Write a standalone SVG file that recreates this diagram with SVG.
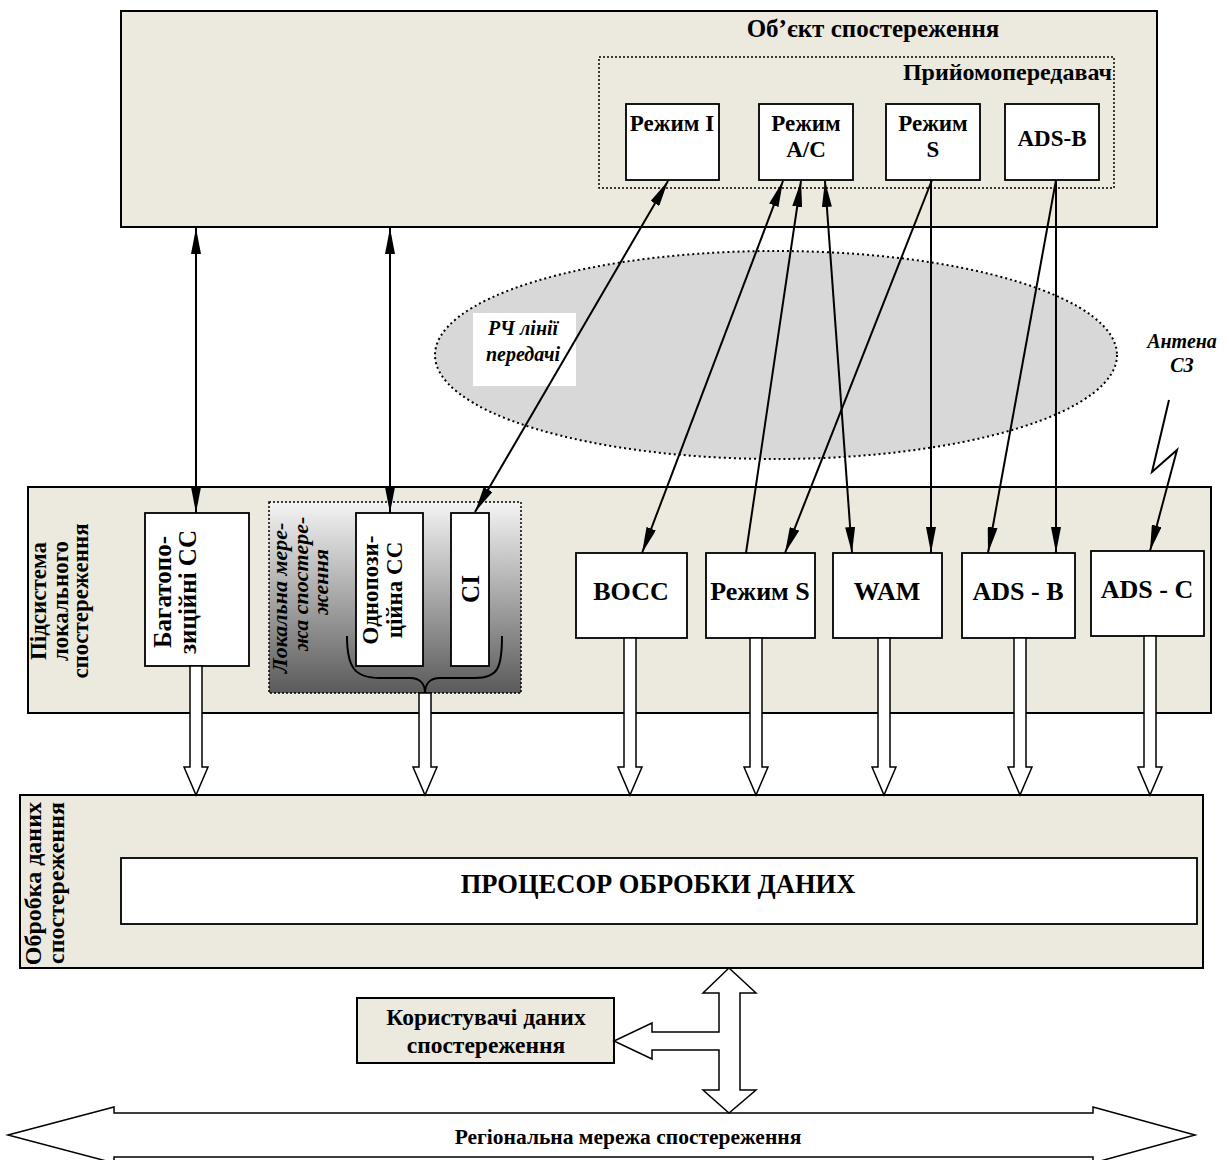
<svg xmlns="http://www.w3.org/2000/svg" width="1229" height="1160" viewBox="0 0 1229 1160">
  <defs>
    <style>
      .panel { fill: #ece9df; stroke: #000; stroke-width: 2; }
      .box { fill: #fff; stroke: #000; stroke-width: 1.8; }
      .dots { fill: none; stroke: #000; stroke-width: 1.5; stroke-dasharray: 2 2; }
      .t { font-family: "Liberation Serif", "Times New Roman", serif; font-weight: bold; fill: #000; }
      .it { font-style: italic; }
      .mid { text-anchor: middle; }
      .conn line, .conn polyline { stroke: #000; stroke-width: 2; fill: none; }
      .hollow { fill: #fff; stroke: #000; stroke-width: 1.5; stroke-linejoin: miter; }
    </style>
    <marker id="ah" viewBox="0 0 26 10" refX="26" refY="5" markerWidth="26" markerHeight="10" markerUnits="userSpaceOnUse" orient="auto-start-reverse">
      <path d="M0,0 L26,5 L0,10 z" fill="#000"/>
    </marker>
    <linearGradient id="lanGrad" x1="0" y1="0" x2="0" y2="1">
      <stop offset="0" stop-color="#f4f4f4"/>
      <stop offset="1" stop-color="#5a5a5a"/>
    </linearGradient>
  </defs>

  <!-- Observed object with its transponder -->
  <g id="object">
    <rect class="panel" x="121" y="11" width="1036" height="216" stroke-width="2.4"/>
    <text class="t mid" x="873" y="37" font-size="25">Об’єкт спостереження</text>
  </g>
  <g id="transponder">
    <rect class="dots" x="599" y="57" width="515" height="131"/>
    <text class="t" x="1112" y="80" font-size="24" text-anchor="end">Прийомопередавач</text>
  </g>
  <g id="mode-i">
    <rect class="box" x="626" y="104" width="93" height="76"/>
    <text class="t mid" x="672" y="131" font-size="23">Режим I</text>
  </g>
  <g id="mode-ac">
    <rect class="box" x="759" y="104" width="94" height="76"/>
    <text class="t mid" x="806" y="131" font-size="23">Режим</text>
    <text class="t mid" x="806" y="157" font-size="23">A/C</text>
  </g>
  <g id="mode-s-top">
    <rect class="box" x="886" y="104" width="94" height="76"/>
    <text class="t mid" x="933" y="131" font-size="23">Режим</text>
    <text class="t mid" x="933" y="157" font-size="23">S</text>
  </g>
  <g id="adsb-top">
    <rect class="box" x="1005" y="104" width="94" height="76"/>
    <text class="t mid" x="1052" y="146" font-size="23">ADS-B</text>
  </g>

  <!-- RF transmission lines -->
  <g id="rf-links">
    <ellipse cx="776" cy="355" rx="341" ry="104" fill="#d8d8d8" stroke="#000" stroke-width="2" stroke-dasharray="2 3"/>
    <rect x="473" y="313" width="103" height="73" fill="#fff"/>
    <text class="t it mid" x="523" y="335" font-size="20">РЧ лінії</text>
    <text class="t it mid" x="523" y="361" font-size="20">передачі</text>
  </g>

  <g id="antenna-label">
    <text class="t it mid" x="1182" y="348" font-size="20">Антена</text>
    <text class="t it mid" x="1182" y="372" font-size="20">СЗ</text>
  </g>

  <!-- Local surveillance subsystem -->
  <g id="local-subsystem">
    <rect class="panel" x="28" y="487" width="1183" height="226" stroke-width="1.6"/>
    <g class="t mid" font-size="23">
      <text transform="translate(46,601) rotate(-90)">Підсистема</text>
      <text transform="translate(68,601) rotate(-90)">локального</text>
      <text transform="translate(88,601) rotate(-90)">спостереження</text>
    </g>
  </g>
  <g id="multilateration">
    <rect class="box" x="145" y="513" width="104" height="153"/>
    <g class="t mid" font-size="25">
      <text transform="translate(171,592) rotate(-90)">Багатопо-</text>
      <text transform="translate(196,592) rotate(-90)">зиційні СС</text>
    </g>
  </g>
  <g id="local-network">
    <rect x="269" y="502" width="252" height="191" fill="url(#lanGrad)"/>
    <rect class="dots" x="269" y="502" width="252" height="191"/>
    <g class="t it mid" font-size="22">
      <text transform="translate(287,598) rotate(-90)">Локальна мере-</text>
      <text transform="translate(308,584) rotate(-90)">жа спостере-</text>
      <text transform="translate(328,582) rotate(-90)">ження</text>
    </g>
    <path d="M347,636 C347,668 355,678 380,678 L410,678 C420,678 425,684 425,693 C425,684 430,678 440,678 L475,678 C498,678 502,668 502,636" fill="none" stroke="#000" stroke-width="2"/>
  </g>
  <g id="single-site">
    <rect class="box" x="356" y="513" width="67" height="153"/>
    <g class="t mid" font-size="23">
      <text transform="translate(378,590) rotate(-90)">Однопози-</text>
      <text transform="translate(402,590) rotate(-90)">ційна СС</text>
    </g>
  </g>
  <g id="ci">
    <rect class="box" x="451" y="513" width="38" height="153"/>
    <text class="t mid" font-size="25" transform="translate(479,589) rotate(-90)">СІ</text>
  </g>
  <g id="vocc">
    <rect class="box" x="576" y="553" width="111" height="85"/>
    <text class="t mid" x="631" y="600" font-size="26">ВОСС</text>
  </g>
  <g id="mode-s">
    <rect class="box" x="706" y="553" width="109" height="85"/>
    <text class="t mid" x="760" y="600" font-size="26">Режим S</text>
  </g>
  <g id="wam">
    <rect class="box" x="833" y="553" width="109" height="85"/>
    <text class="t mid" x="887" y="600" font-size="26">WAM</text>
  </g>
  <g id="adsb">
    <rect class="box" x="962" y="553" width="113" height="85"/>
    <text class="t mid" x="1018" y="600" font-size="26">ADS - B</text>
  </g>
  <g id="adsc">
    <rect class="box" x="1091" y="551" width="113" height="85"/>
    <text class="t mid" x="1147" y="598" font-size="26">ADS - C</text>
  </g>

  <!-- Surveillance data processing -->
  <g id="processing">
    <rect class="panel" x="20" y="795" width="1183" height="173" stroke-width="1.6"/>
    <g class="t" font-size="24" text-anchor="end">
      <text transform="translate(41,802) rotate(-90)">Обробка даних</text>
      <text transform="translate(64,802) rotate(-90)">спостереження</text>
    </g>
  </g>
  <g id="processor">
    <rect class="box" x="121" y="858" width="1076" height="66"/>
    <text class="t mid" x="658" y="893" font-size="26.5">ПРОЦЕСОР ОБРОБКИ ДАНИХ</text>
  </g>
  <g id="users">
    <rect class="panel" x="357" y="998" width="257" height="65" stroke-width="1.6"/>
    <text class="t mid" x="486" y="1025" font-size="23.5">Користувачі даних</text>
    <text class="t mid" x="486" y="1053" font-size="23.5">спостереження</text>
  </g>
  <g id="regional-network">
    <path class="hollow" d="M8,1135 L114,1107 L114,1113 L1093,1113 L1093,1107 L1195,1135 L1093,1163 L1093,1157 L114,1157 L114,1163 Z"/>
    <text class="t mid" x="628" y="1144" font-size="21.5">Регіональна мережа спостереження</text>
  </g>

  <!-- Connectors -->
  <g id="connectors" class="conn">
    <line x1="196" y1="228" x2="196" y2="513" marker-start="url(#ah)" marker-end="url(#ah)"/>
    <line x1="390" y1="228" x2="390" y2="513" marker-start="url(#ah)" marker-end="url(#ah)"/>
    <line x1="668" y1="181" x2="475" y2="512" marker-start="url(#ah)" marker-end="url(#ah)"/>
    <line x1="783" y1="181" x2="642" y2="553" marker-start="url(#ah)" marker-end="url(#ah)"/>
    <line x1="746" y1="553" x2="801" y2="181" marker-end="url(#ah)"/>
    <line x1="825" y1="181" x2="852" y2="553" marker-start="url(#ah)" marker-end="url(#ah)"/>
    <line x1="932" y1="180" x2="785" y2="553" marker-end="url(#ah)"/>
    <line x1="931" y1="180" x2="931" y2="553" marker-end="url(#ah)"/>
    <line x1="1056" y1="180" x2="988" y2="553" marker-end="url(#ah)"/>
    <line x1="1056" y1="180" x2="1056" y2="553" marker-end="url(#ah)"/>
    <polyline points="1169,400 1152,472 1177,450 1150,551" marker-end="url(#ah)"/>

    <!-- data feeds into the processing unit -->
    <path class="hollow" d="M190,666 L202,666 L202,767 L208,767 L196,795 L184,767 L190,767 Z"/>
    <path class="hollow" d="M419,693 L431,693 L431,767 L437,767 L425,795 L413,767 L419,767 Z"/>
    <path class="hollow" d="M624,638 L636,638 L636,767 L642,767 L630,795 L618,767 L624,767 Z"/>
    <path class="hollow" d="M750,638 L762,638 L762,767 L768,767 L756,795 L744,767 L750,767 Z"/>
    <path class="hollow" d="M878,638 L890,638 L890,767 L896,767 L884,795 L872,767 L878,767 Z"/>
    <path class="hollow" d="M1014,638 L1026,638 L1026,767 L1032,767 L1020,795 L1008,767 L1014,767 Z"/>
    <path class="hollow" d="M1144,636 L1156,636 L1156,767 L1162,767 L1150,795 L1138,767 L1144,767 Z"/>

    <!-- distribution to users and the regional network -->
    <path class="hollow" d="M729,968 L756,993 L740,993 L740,1090 L756,1090 L729,1113 L703,1090 L719,1090 L719,1050 L652,1050 L652,1059 L614,1041 L652,1023 L652,1032 L719,1032 L719,993 L703,993 Z"/>
  </g>
</svg>
